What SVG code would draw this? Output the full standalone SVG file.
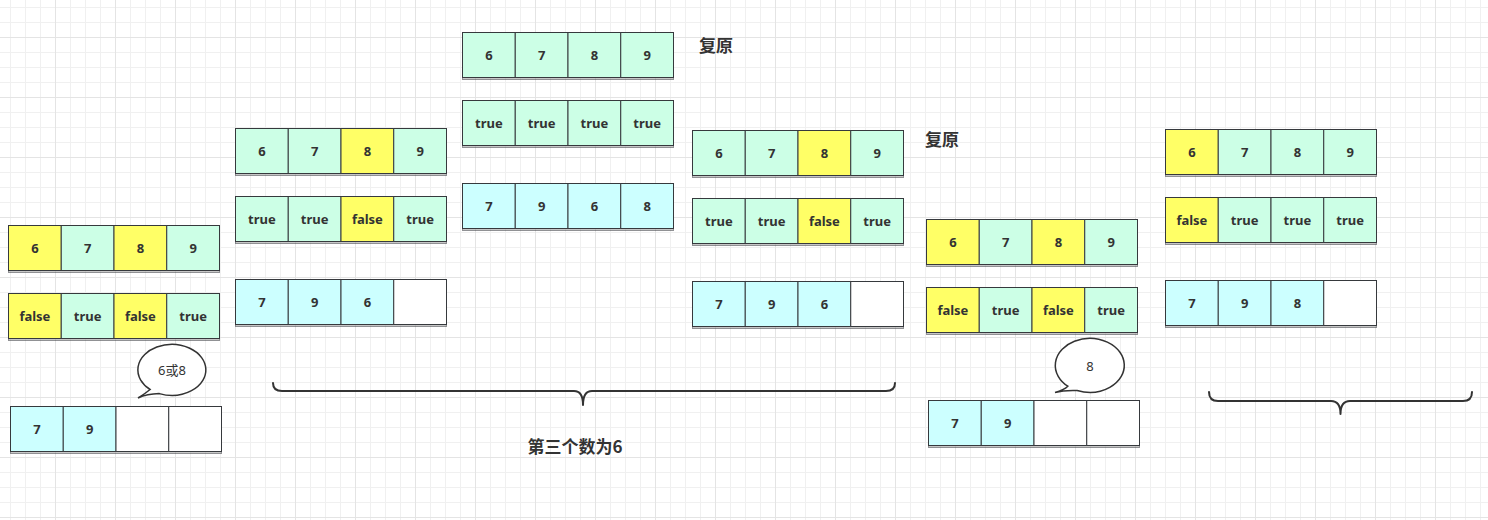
<svg xmlns="http://www.w3.org/2000/svg" width="1488" height="520" viewBox="0 0 1488 520">
<defs>
<pattern id="grid" patternUnits="userSpaceOnUse" x="55" y="37" width="60" height="60">
<rect width="60" height="60" fill="#ffffff"/>
<path d="M15.5 0V60M30.5 0V60M45.5 0V60M0 15.5H60M0 30.5H60M0 45.5H60" stroke="#f0f0f0" stroke-width="1" fill="none"/>
<path d="M0.5 0V60M0 0.5H60" stroke="#e4e4e4" stroke-width="1" fill="none"/>
</pattern>
<style>
.c rect{stroke:#36393d;stroke-width:1}
.g{fill:#ccffe6}.y{fill:#ffff66}.b{fill:#ccffff}.w{fill:#ffffff}
.sh{fill:#9a9a9a;opacity:.55}
.t{font-family:"Noto Sans","Noto Sans CJK SC",sans-serif;font-size:13px;font-weight:bold;fill:#333;text-anchor:middle;dominant-baseline:central}
.n{font-family:"Noto Sans","Noto Sans CJK SC",sans-serif;font-size:13px;fill:#333;text-anchor:middle;dominant-baseline:central}
.lab{font-family:"Noto Sans CJK SC",sans-serif;font-size:17px;font-weight:bold;fill:#333;dominant-baseline:central}
.br{fill:none;stroke:#333;stroke-width:2;stroke-linecap:round;stroke-linejoin:round}
.bub{fill:#fff;stroke:#333;stroke-width:1.5}
</style>
</defs>
<rect width="1488" height="520" fill="url(#grid)"/>

<!-- Group A -->
<g id="a-values" class="c" transform="translate(8.5,225.5)">
<rect class="sh" x="0" y="45" width="211" height="2"/>
<rect class="y" x="0" width="52.75" height="45"/><rect class="g" x="52.75" width="52.75" height="45"/><rect class="y" x="105.5" width="52.75" height="45"/><rect class="g" x="158.25" width="52.75" height="45"/>
<text class="t" x="26.4" y="22.5">6</text><text class="t" x="79.1" y="22.5">7</text><text class="t" x="131.9" y="22.5">8</text><text class="t" x="184.6" y="22.5">9</text>
</g>
<g id="a-flags" class="c" transform="translate(8.5,293.5)">
<rect class="sh" x="0" y="45" width="211" height="2"/>
<rect class="y" x="0" width="52.75" height="45"/><rect class="g" x="52.75" width="52.75" height="45"/><rect class="y" x="105.5" width="52.75" height="45"/><rect class="g" x="158.25" width="52.75" height="45"/>
<text class="t" x="26.4" y="22.5">false</text><text class="t" x="79.1" y="22.5">true</text><text class="t" x="131.9" y="22.5">false</text><text class="t" x="184.6" y="22.5">true</text>
</g>
<g id="a-path" class="c" transform="translate(10.5,406.5)">
<rect class="sh" x="0" y="45" width="211" height="2"/>
<rect class="b" x="0" width="52.75" height="45"/><rect class="b" x="52.75" width="52.75" height="45"/><rect class="w" x="105.5" width="52.75" height="45"/><rect class="w" x="158.25" width="52.75" height="45"/>
<text class="t" x="26.4" y="22.5">7</text><text class="t" x="79.1" y="22.5">9</text>
</g>
<g id="a-bubble">
<path class="bub" d="M150.1 389.5 A34 25.5 0 1 1 159.3 393.6 Q147 394 138 398 Q146 393 150.1 389.5 Z"/>
<text class="n" x="172" y="370">6或8</text>
</g>

<!-- Group B -->
<g id="b-values" class="c" transform="translate(235.5,128.5)">
<rect class="sh" x="0" y="45" width="211" height="2"/>
<rect class="g" x="0" width="52.75" height="45"/><rect class="g" x="52.75" width="52.75" height="45"/><rect class="y" x="105.5" width="52.75" height="45"/><rect class="g" x="158.25" width="52.75" height="45"/>
<text class="t" x="26.4" y="22.5">6</text><text class="t" x="79.1" y="22.5">7</text><text class="t" x="131.9" y="22.5">8</text><text class="t" x="184.6" y="22.5">9</text>
</g>
<g id="b-flags" class="c" transform="translate(235.5,196.5)">
<rect class="sh" x="0" y="45" width="211" height="2"/>
<rect class="g" x="0" width="52.75" height="45"/><rect class="g" x="52.75" width="52.75" height="45"/><rect class="y" x="105.5" width="52.75" height="45"/><rect class="g" x="158.25" width="52.75" height="45"/>
<text class="t" x="26.4" y="22.5">true</text><text class="t" x="79.1" y="22.5">true</text><text class="t" x="131.9" y="22.5">false</text><text class="t" x="184.6" y="22.5">true</text>
</g>
<g id="b-path" class="c" transform="translate(235.5,279.5)">
<rect class="sh" x="0" y="45" width="211" height="2"/>
<rect class="b" x="0" width="52.75" height="45"/><rect class="b" x="52.75" width="52.75" height="45"/><rect class="b" x="105.5" width="52.75" height="45"/><rect class="w" x="158.25" width="52.75" height="45"/>
<text class="t" x="26.4" y="22.5">7</text><text class="t" x="79.1" y="22.5">9</text><text class="t" x="131.9" y="22.5">6</text>
</g>

<!-- Group C -->
<g id="c-values" class="c" transform="translate(462.5,32.5)">
<rect class="sh" x="0" y="45" width="211" height="2"/>
<rect class="g" x="0" width="52.75" height="45"/><rect class="g" x="52.75" width="52.75" height="45"/><rect class="g" x="105.5" width="52.75" height="45"/><rect class="g" x="158.25" width="52.75" height="45"/>
<text class="t" x="26.4" y="22.5">6</text><text class="t" x="79.1" y="22.5">7</text><text class="t" x="131.9" y="22.5">8</text><text class="t" x="184.6" y="22.5">9</text>
</g>
<g id="c-flags" class="c" transform="translate(462.5,100.5)">
<rect class="sh" x="0" y="45" width="211" height="2"/>
<rect class="g" x="0" width="52.75" height="45"/><rect class="g" x="52.75" width="52.75" height="45"/><rect class="g" x="105.5" width="52.75" height="45"/><rect class="g" x="158.25" width="52.75" height="45"/>
<text class="t" x="26.4" y="22.5">true</text><text class="t" x="79.1" y="22.5">true</text><text class="t" x="131.9" y="22.5">true</text><text class="t" x="184.6" y="22.5">true</text>
</g>
<g id="c-path" class="c" transform="translate(462.5,183.5)">
<rect class="sh" x="0" y="45" width="211" height="2"/>
<rect class="b" x="0" width="52.75" height="45"/><rect class="b" x="52.75" width="52.75" height="45"/><rect class="b" x="105.5" width="52.75" height="45"/><rect class="b" x="158.25" width="52.75" height="45"/>
<text class="t" x="26.4" y="22.5">7</text><text class="t" x="79.1" y="22.5">9</text><text class="t" x="131.9" y="22.5">6</text><text class="t" x="184.6" y="22.5">8</text>
</g>
<g id="restore-1"><text class="lab" x="699" y="44">复原</text></g>

<!-- Group D -->
<g id="d-values" class="c" transform="translate(692.5,130.5)">
<rect class="sh" x="0" y="45" width="211" height="2"/>
<rect class="g" x="0" width="52.75" height="45"/><rect class="g" x="52.75" width="52.75" height="45"/><rect class="y" x="105.5" width="52.75" height="45"/><rect class="g" x="158.25" width="52.75" height="45"/>
<text class="t" x="26.4" y="22.5">6</text><text class="t" x="79.1" y="22.5">7</text><text class="t" x="131.9" y="22.5">8</text><text class="t" x="184.6" y="22.5">9</text>
</g>
<g id="d-flags" class="c" transform="translate(692.5,198.5)">
<rect class="sh" x="0" y="45" width="211" height="2"/>
<rect class="g" x="0" width="52.75" height="45"/><rect class="g" x="52.75" width="52.75" height="45"/><rect class="y" x="105.5" width="52.75" height="45"/><rect class="g" x="158.25" width="52.75" height="45"/>
<text class="t" x="26.4" y="22.5">true</text><text class="t" x="79.1" y="22.5">true</text><text class="t" x="131.9" y="22.5">false</text><text class="t" x="184.6" y="22.5">true</text>
</g>
<g id="d-path" class="c" transform="translate(692.5,281.5)">
<rect class="sh" x="0" y="45" width="211" height="2"/>
<rect class="b" x="0" width="52.75" height="45"/><rect class="b" x="52.75" width="52.75" height="45"/><rect class="b" x="105.5" width="52.75" height="45"/><rect class="w" x="158.25" width="52.75" height="45"/>
<text class="t" x="26.4" y="22.5">7</text><text class="t" x="79.1" y="22.5">9</text><text class="t" x="131.9" y="22.5">6</text>
</g>
<g id="restore-2"><text class="lab" x="925" y="138">复原</text></g>

<!-- Group E -->
<g id="e-values" class="c" transform="translate(926.5,219.5)">
<rect class="sh" x="0" y="45" width="211" height="2"/>
<rect class="y" x="0" width="52.75" height="45"/><rect class="g" x="52.75" width="52.75" height="45"/><rect class="y" x="105.5" width="52.75" height="45"/><rect class="g" x="158.25" width="52.75" height="45"/>
<text class="t" x="26.4" y="22.5">6</text><text class="t" x="79.1" y="22.5">7</text><text class="t" x="131.9" y="22.5">8</text><text class="t" x="184.6" y="22.5">9</text>
</g>
<g id="e-flags" class="c" transform="translate(926.5,287.5)">
<rect class="sh" x="0" y="45" width="211" height="2"/>
<rect class="y" x="0" width="52.75" height="45"/><rect class="g" x="52.75" width="52.75" height="45"/><rect class="y" x="105.5" width="52.75" height="45"/><rect class="g" x="158.25" width="52.75" height="45"/>
<text class="t" x="26.4" y="22.5">false</text><text class="t" x="79.1" y="22.5">true</text><text class="t" x="131.9" y="22.5">false</text><text class="t" x="184.6" y="22.5">true</text>
</g>
<g id="e-path" class="c" transform="translate(928.5,400.5)">
<rect class="sh" x="0" y="45" width="211" height="2"/>
<rect class="b" x="0" width="52.75" height="45"/><rect class="b" x="52.75" width="52.75" height="45"/><rect class="w" x="105.5" width="52.75" height="45"/><rect class="w" x="158.25" width="52.75" height="45"/>
<text class="t" x="26.4" y="22.5">7</text><text class="t" x="79.1" y="22.5">9</text>
</g>
<g id="e-bubble">
<path class="bub" d="M1067.8 386.2 A34.5 27 0 1 1 1077.1 390.5 Q1064 390 1055 392.5 Q1064 390 1067.8 386.2 Z"/>
<text class="n" x="1090" y="365.5">8</text>
</g>

<!-- Group F -->
<g id="f-values" class="c" transform="translate(1165.5,129.5)">
<rect class="sh" x="0" y="45" width="211" height="2"/>
<rect class="y" x="0" width="52.75" height="45"/><rect class="g" x="52.75" width="52.75" height="45"/><rect class="g" x="105.5" width="52.75" height="45"/><rect class="g" x="158.25" width="52.75" height="45"/>
<text class="t" x="26.4" y="22.5">6</text><text class="t" x="79.1" y="22.5">7</text><text class="t" x="131.9" y="22.5">8</text><text class="t" x="184.6" y="22.5">9</text>
</g>
<g id="f-flags" class="c" transform="translate(1165.5,197.5)">
<rect class="sh" x="0" y="45" width="211" height="2"/>
<rect class="y" x="0" width="52.75" height="45"/><rect class="g" x="52.75" width="52.75" height="45"/><rect class="g" x="105.5" width="52.75" height="45"/><rect class="g" x="158.25" width="52.75" height="45"/>
<text class="t" x="26.4" y="22.5">false</text><text class="t" x="79.1" y="22.5">true</text><text class="t" x="131.9" y="22.5">true</text><text class="t" x="184.6" y="22.5">true</text>
</g>
<g id="f-path" class="c" transform="translate(1165.5,280.5)">
<rect class="sh" x="0" y="45" width="211" height="2"/>
<rect class="b" x="0" width="52.75" height="45"/><rect class="b" x="52.75" width="52.75" height="45"/><rect class="b" x="105.5" width="52.75" height="45"/><rect class="w" x="158.25" width="52.75" height="45"/>
<text class="t" x="26.4" y="22.5">7</text><text class="t" x="79.1" y="22.5">9</text><text class="t" x="131.9" y="22.5">8</text>
</g>

<!-- braces -->
<g id="connectors">
<path class="br" d="M273 383 Q273 391 282 391 L574 391 Q583 391 583 405 Q583 391 592 391 L886 391 Q895 391 895 383"/>
<path class="br" d="M1209 392 Q1209 401 1218 401 L1331 401 Q1340.5 401 1340.5 414 Q1340.5 401 1350 401 L1463 401 Q1472 401 1472 392"/>
</g>
<g id="caption"><text class="lab" x="575" y="445" text-anchor="middle">第三个数为6</text></g>
</svg>
